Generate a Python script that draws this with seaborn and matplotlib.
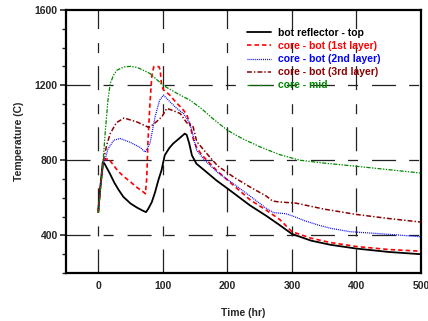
import matplotlib
matplotlib.use("Agg")
import matplotlib.pyplot as plt
import seaborn as sns
import pandas as pd
from matplotlib.ticker import MultipleLocator

# ---- data ----
t_black = [0, 3, 7, 10, 18, 25, 32, 39, 50, 60, 70, 74, 78, 83, 88, 93, 98, 103, 110, 116, 125, 134, 137, 141, 145, 152, 165, 183, 204, 235, 260, 281, 300, 330, 360, 400, 450, 500]
T_black = [533, 650, 791, 780, 729, 680, 640, 605, 570, 548, 530, 524, 545, 578, 630, 693, 747, 827, 865, 889, 915, 942, 935, 889, 827, 782, 745, 693, 640, 560, 505, 455, 408, 372, 350, 330, 312, 300]

t_red = [0, 3, 7, 11, 16, 20, 30, 39, 50, 60, 70, 73, 75, 77, 80, 83, 86, 90, 94, 96, 98, 101, 110, 120, 130, 137, 142, 147, 152, 160, 183, 210, 235, 260, 281, 300, 330, 360, 400, 450, 500]
T_red = [520, 650, 780, 805, 809, 790, 745, 715, 685, 655, 631, 622, 700, 900, 1100, 1250, 1298, 1300, 1298, 1280, 1200, 1175, 1150, 1110, 1075, 1045, 990, 915, 870, 830, 747, 665, 590, 535, 485, 420, 385, 362, 341, 325, 316]

t_blue = [0, 3, 8, 11, 15, 24, 34, 50, 65, 72.6, 76, 80, 88, 95, 101, 110, 121.6, 132, 139.5, 142, 147, 152.5, 165, 185, 209, 235, 260, 272, 290, 300, 320, 343, 360, 390, 437, 500]
T_blue = [520, 650, 780, 810, 860, 907, 916, 895, 868, 844, 865, 889, 1031, 1120, 1147, 1115, 1076, 1049, 1010, 996, 930, 853, 800, 735, 676, 610, 545, 521, 516, 505, 478, 453, 438, 420, 409, 393]

t_dred = [0, 3, 8, 13, 18.5, 28, 40, 60, 78, 85, 98.5, 106, 114, 127, 137, 147, 152.5, 168, 185, 210, 235, 260, 270, 281, 306, 350, 399, 450, 500]
T_dred = [520, 650, 800, 880, 942, 1000, 1025, 1004, 975, 990, 1031, 1076, 1067, 1049, 1000, 978, 900, 836, 770, 710, 658, 610, 583, 578, 572, 540, 512, 490, 471]

t_green = [0, 5, 8, 11, 15, 18.5, 24, 29, 40, 49.5, 60, 80, 101, 120, 142, 160, 178, 200, 225, 251, 281, 313, 350, 400, 450, 500]
T_green = [520, 700, 818, 960, 1120, 1209, 1255, 1280, 1297, 1300, 1295, 1262, 1198, 1160, 1120, 1075, 1020, 960, 912, 871, 830, 800, 785, 768, 750, 732]

labels = ["bot reflector - top", "core - bot (1st layer)", "core - bot (2nd layer)",
          "core - bot (3rd layer)", "core - mid"]
colors = ["#000000", "#ff0000", "#0000ff", "#8b0000", "#008800"]
xticks = [0, 100, 200, 300, 400, 500]
yticks = [400, 800, 1200, 1600]

sns.set_theme(style="white")
plt.rcParams["font.family"] = ["Liberation Sans", "DejaVu Sans"]
plt.rcParams["font.weight"] = "bold"
plt.rcParams["lines.scale_dashes"] = False

fig = plt.figure(figsize=(4.28, 3.21), dpi=100)
ax = fig.add_axes([66/428, 48/321, 355/428, 263/321])

series = [(t_black, T_black), (t_red, T_red), (t_blue, T_blue), (t_dred, T_dred), (t_green, T_green)]
styles = ["-", (0, (3.2, 2.2)), (0, (0.7, 0.7)), (0, (3.5, 1.5, 1, 1.5)), (0, (3, 1, 1, 1, 1, 1))]
widths = [1.3, 1.2, 0.9, 1.1, 0.9]

# grid
gstyle = (0, (17.3, 9.4, 7.2, 10.1))
for xv in xticks[:-1]:
    ax.axvline(xv, color="#222222", lw=0.9, ls=gstyle, zorder=1)
for yv in yticks[:-1]:
    ax.axhline(yv, color="#222222", lw=0.9, ls=gstyle, zorder=1)

for (tx, ty), lab, c, ls, lw in zip(series, labels, colors, styles, widths):
    df = pd.DataFrame({"t": tx, "T": ty})
    sns.lineplot(data=df, x="t", y="T", ax=ax, color=c, linestyle=ls, lw=lw,
                 label=lab, estimator=None, sort=False, zorder=3)

ax.set_xlim(-50, 500)
ax.set_ylim(200, 1600)
ax.set_xticks(xticks)
ax.set_yticks(yticks)
ax.yaxis.set_minor_locator(MultipleLocator(100))
ax.tick_params(axis="x", length=0, pad=6, labelsize=7.5)
ax.tick_params(axis="y", which="major", direction="out", length=4, width=1.2, pad=2, labelsize=7.5, left=True)
ax.tick_params(axis="y", which="minor", direction="out", length=3, width=1.0, left=True)
for lab in ax.get_xticklabels() + ax.get_yticklabels():
    lab.set_fontweight("bold")
for s in ax.spines.values():
    s.set_linewidth(1.6)
    s.set_color("black")

ax.set_xlabel("Time (hr)", fontsize=7.5, fontweight="bold", labelpad=12)
ax.set_ylabel("Temperature (C)", fontsize=7.5, fontweight="bold", labelpad=8)

leg = ax.legend(loc="upper left", bbox_to_anchor=(247/428, 1 - 28/321), bbox_transform=fig.transFigure,
                frameon=False, fontsize=7.5, handlelength=2.3, handletextpad=0.7,
                labelspacing=0.3, labelcolor="linecolor", borderpad=0, borderaxespad=0)
for txt in leg.get_texts():
    txt.set_fontweight("bold")

fig.savefig("out.png", dpi=100)
